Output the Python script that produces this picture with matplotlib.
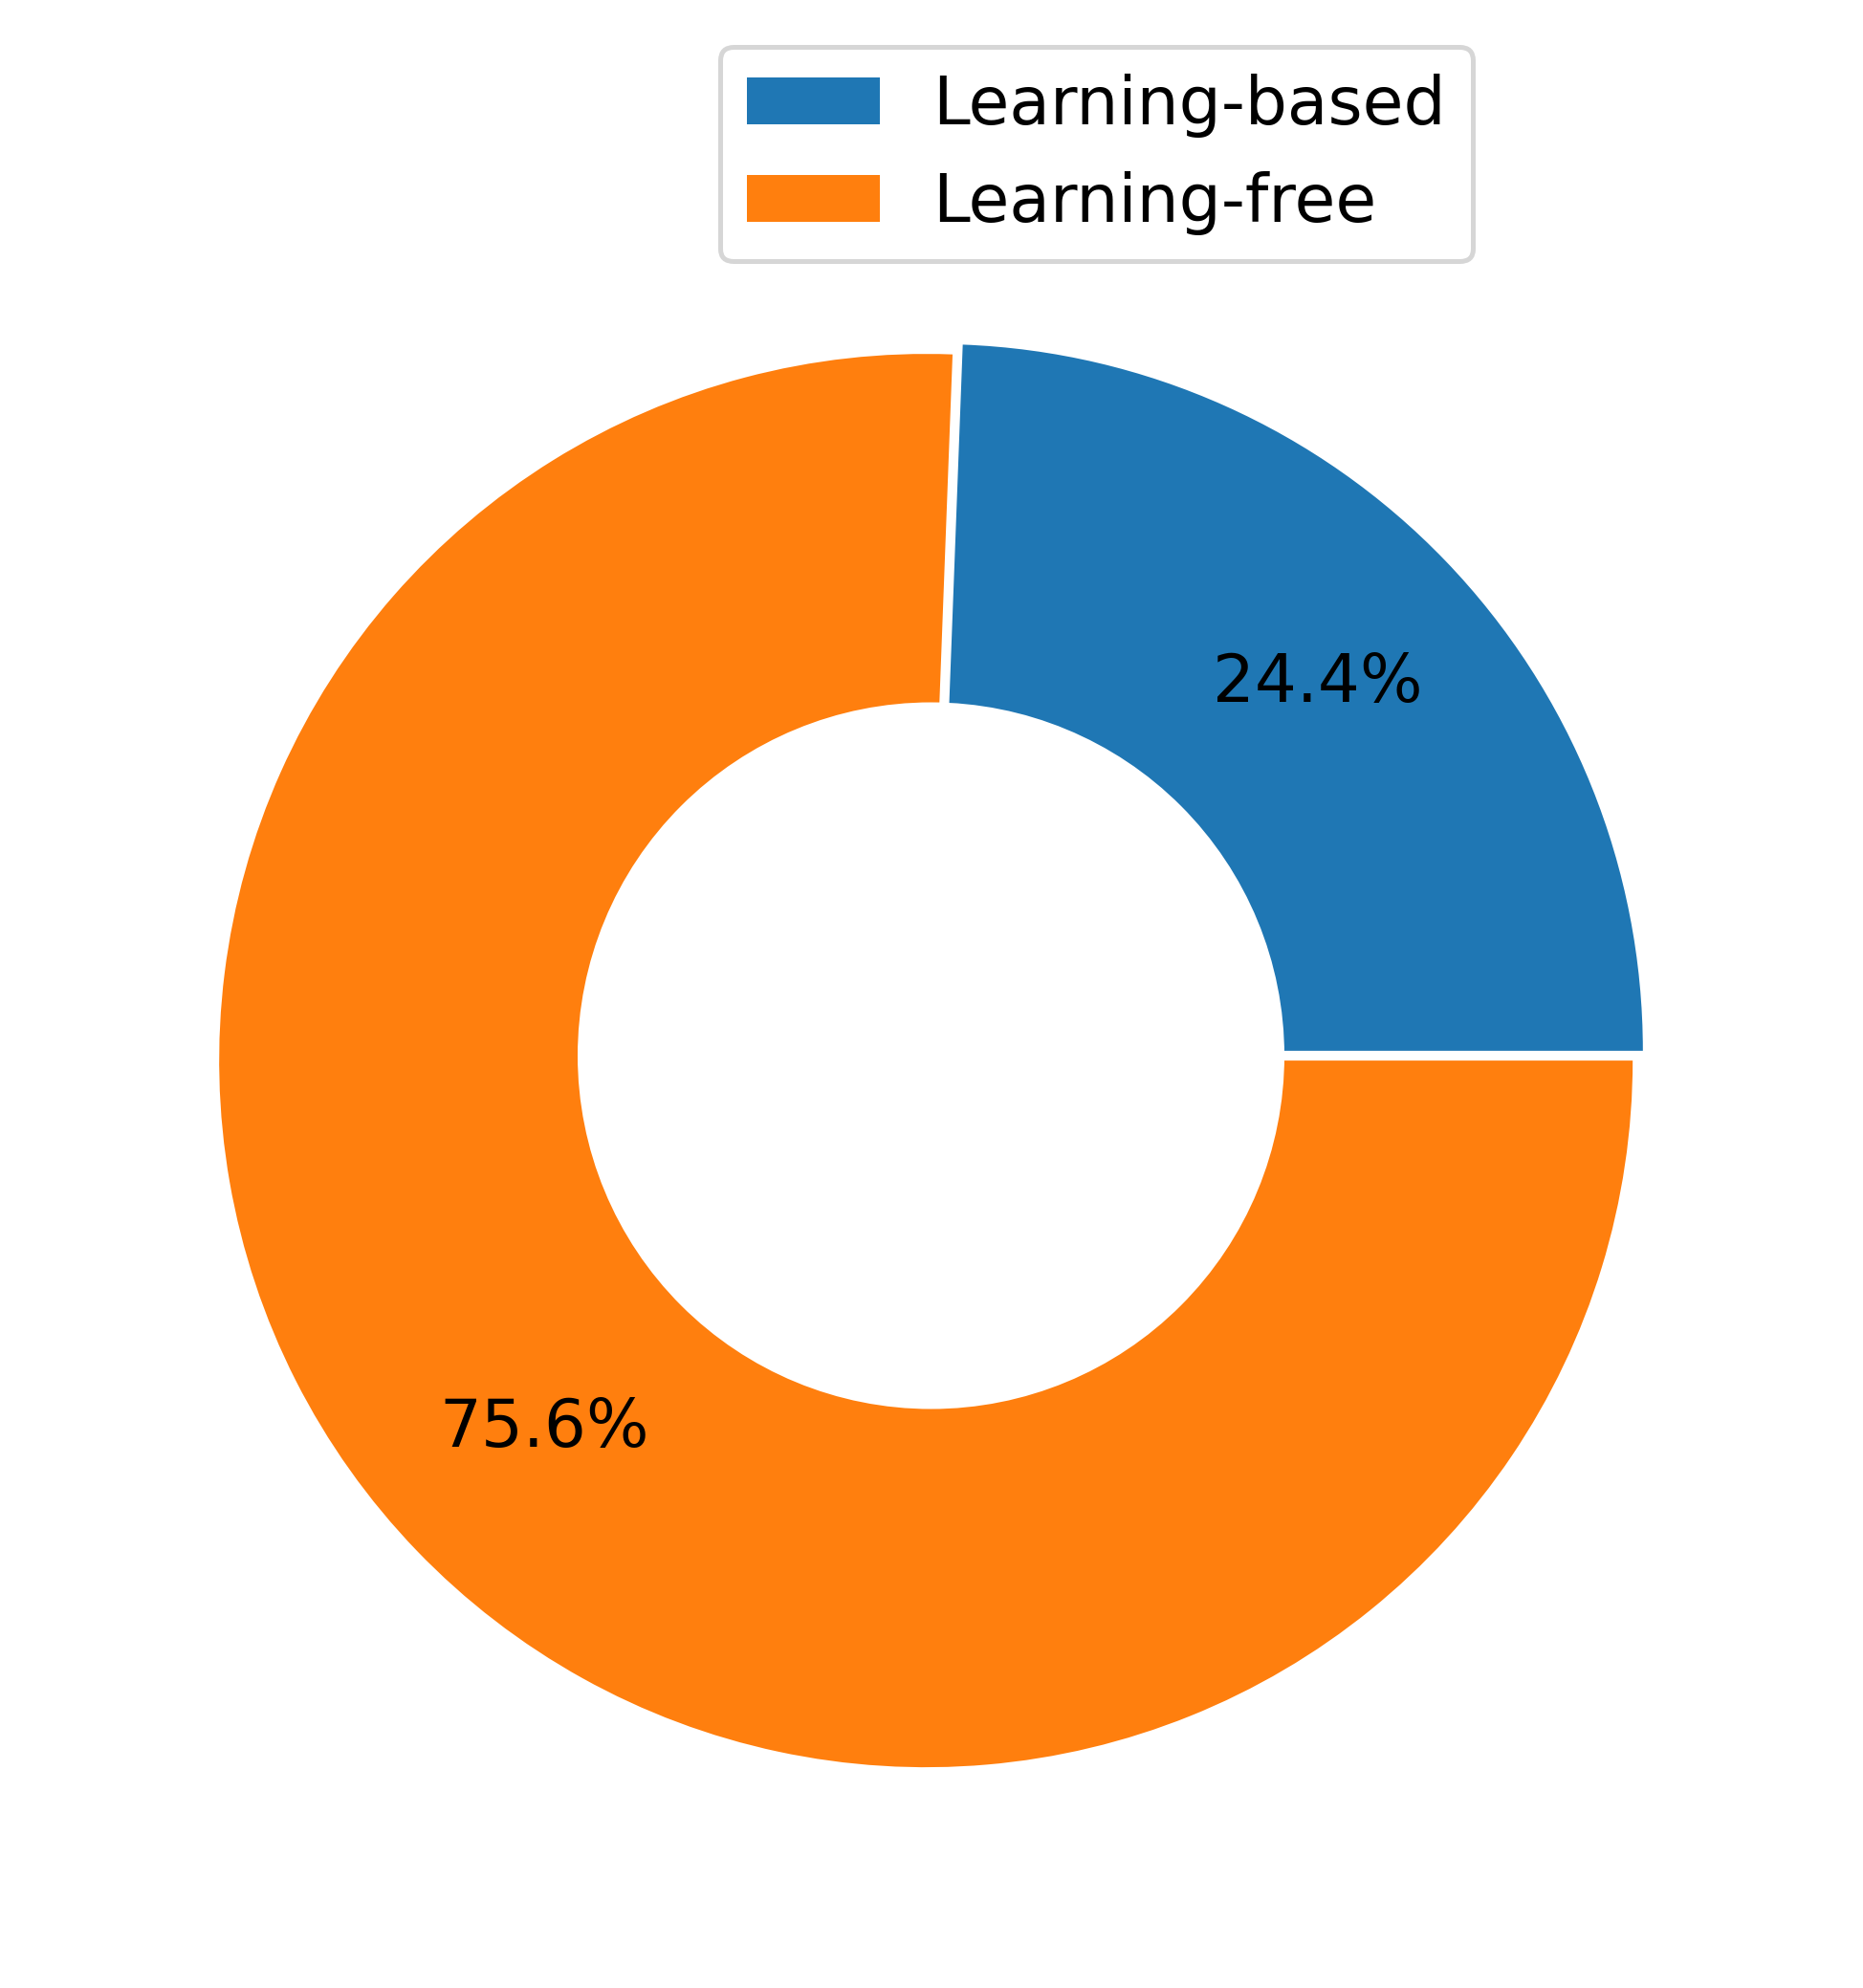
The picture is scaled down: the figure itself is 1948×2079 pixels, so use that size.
import matplotlib
matplotlib.use('Agg')
import matplotlib.pyplot as plt

# Дані
labels = ['Learning-based', 'Learning-free']
shares = [24.4, 75.6]
colors = ['#1f77b4', '#ff7f0e']
explode = [0.01, 0.01]

W, H, DPI = 1948, 2079, 300
fig = plt.figure(figsize=(W / DPI, H / DPI), dpi=DPI)

# Кругова діаграма + білий круг у центрі
R = 739  # радіус у пікселях
cx, cy = 973.5, H - 1104
side = 2.5 * R
ax = fig.add_axes([(cx - side / 2) / W, (cy - side / 2) / H, side / W, side / H])
wedges, texts, autotexts = ax.pie(shares, colors=colors, explode=explode,
                                  autopct='%1.1f%%', pctdistance=0.75,
                                  textprops=dict(fontsize=16.6))
centre_circle = plt.Circle((0, 0), 0.5, fc='white')
ax.add_artist(centre_circle)
ax.set_xlim(-1.25, 1.25)
ax.set_ylim(-1.25, 1.25)
ax.set_aspect('equal')

leg = fig.legend(wedges, labels, loc='upper right', borderaxespad=0,
                 bbox_to_anchor=(1540 / W, 1 - 49 / H), fontsize=16.7)
leg.get_frame().set_linewidth(1.2)

fig.savefig('out.png', dpi=DPI)
